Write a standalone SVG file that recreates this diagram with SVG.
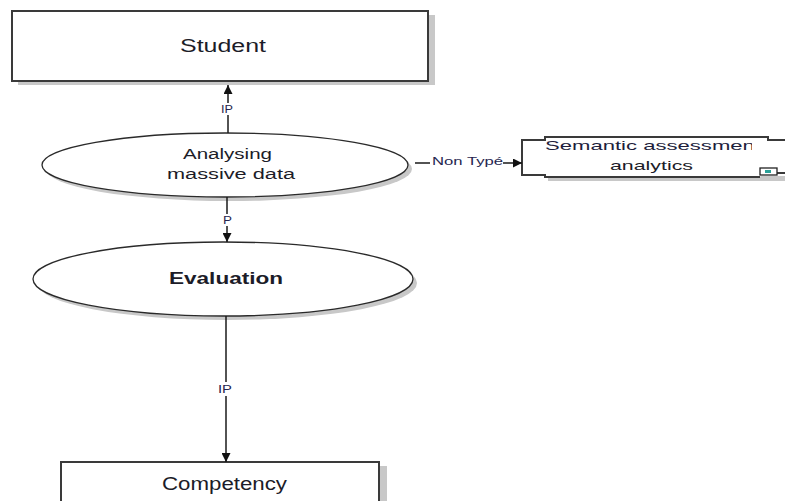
<svg xmlns="http://www.w3.org/2000/svg" width="785" height="501" viewBox="0 0 785 501">
  <style>
    .box { fill: #ffffff; stroke: #3a3a3a; stroke-width: 2; }
    .shadow { fill: #c8c8c8; stroke: none; }
    .ell { fill: #ffffff; stroke: #2a2a2a; stroke-width: 1.3; }
    .conn { fill: none; stroke: #1a1a1a; stroke-width: 1.5; }
    .lbl { font-family: "Liberation Sans", Arial, sans-serif; fill: #1e1e3c; }
    .name { font-family: "Liberation Sans", Arial, sans-serif; fill: #1c1c28; text-anchor: middle; }
    .tag { font-family: "Liberation Sans", Arial, sans-serif; font-size: 11px; fill: #262650; text-anchor: middle; }
  </style>
  <defs>
    <marker id="arrow" viewBox="0 0 10 10" refX="10" refY="5" markerWidth="9" markerHeight="9" markerUnits="userSpaceOnUse" orient="auto">
      <path d="M0,0 L10,5 L0,10 z" fill="#111"/>
    </marker>
    <clipPath id="semClip">
      <rect x="530" y="130" width="222" height="50"/>
    </clipPath>
  </defs>
  <rect width="785" height="501" fill="#ffffff"/>

  <g id="student">
    <rect class="shadow" x="18" y="15" width="417" height="70"/>
    <rect class="box" x="12" y="11" width="416" height="70"/>
    <text class="name" x="223" y="52" font-size="18" textLength="86" lengthAdjust="spacingAndGlyphs">Student</text>
  </g>

  <g id="analysing">
    <ellipse class="shadow" cx="229" cy="169" rx="183" ry="32"/>
    <ellipse class="ell" cx="225" cy="165" rx="183" ry="32"/>
    <text class="name" x="227.5" y="159" font-size="14" textLength="89" lengthAdjust="spacingAndGlyphs">Analysing</text>
    <text class="name" x="231" y="179" font-size="14" textLength="128" lengthAdjust="spacingAndGlyphs">massive data</text>
  </g>

  <g id="evaluation">
    <ellipse class="shadow" cx="227" cy="283" rx="190" ry="37"/>
    <ellipse class="ell" cx="223" cy="279" rx="190" ry="37"/>
    <text class="name" x="226" y="284" font-size="16" font-weight="bold" textLength="114" lengthAdjust="spacingAndGlyphs">Evaluation</text>
  </g>

  <g id="competency">
    <rect class="shadow" x="67" y="466" width="320" height="40"/>
    <rect class="box" x="61" y="462" width="318" height="45"/>
    <text class="name" x="224.5" y="490" font-size="18" textLength="125" lengthAdjust="spacingAndGlyphs">Competency</text>
  </g>

  <g id="semantic">
    <rect class="shadow" x="548" y="176" width="240" height="5"/>
    <path class="box" d="M790,140 H768 V137 H545 V140 H522 V175 H545 V177 H760 M777,173 H790"/>
    <rect x="760" y="168" width="17" height="7" fill="#ffffff" stroke="#222" stroke-width="1.3"/>
    <rect x="765" y="170" width="6" height="3" fill="#2aa198"/>
    <g clip-path="url(#semClip)">
      <text class="lbl" x="545" y="150" font-size="13" textLength="216" lengthAdjust="spacingAndGlyphs">Semantic assessment</text>
    </g>
    <text class="name" x="651.5" y="170" font-size="13" textLength="83" lengthAdjust="spacingAndGlyphs">analytics</text>
  </g>

  <g id="connectors">
    <!-- Analysing massive data -> Student -->
    <line class="conn" x1="228" y1="133" x2="228" y2="115"/>
    <line class="conn" x1="228" y1="103" x2="228" y2="85" marker-end="url(#arrow)"/>
    <text class="tag" x="227" y="113" textLength="12" lengthAdjust="spacingAndGlyphs">IP</text>

    <!-- Analysing massive data -> Evaluation -->
    <line class="conn" x1="227" y1="197" x2="227" y2="214"/>
    <line class="conn" x1="227" y1="226" x2="227" y2="242" marker-end="url(#arrow)"/>
    <text class="tag" x="227.5" y="224" textLength="9" lengthAdjust="spacingAndGlyphs">P</text>

    <!-- Evaluation -> Competency -->
    <line class="conn" x1="226" y1="316" x2="226" y2="382"/>
    <line class="conn" x1="226" y1="396" x2="226" y2="462" marker-end="url(#arrow)"/>
    <text class="tag" x="225" y="393" textLength="14" lengthAdjust="spacingAndGlyphs">IP</text>

    <!-- Analysing massive data -> Semantic assessment analytics -->
    <line class="conn" x1="415" y1="163" x2="430" y2="163"/>
    <line class="conn" x1="503" y1="163" x2="522" y2="163" marker-end="url(#arrow)"/>
    <text class="tag" x="467.5" y="165" textLength="71" lengthAdjust="spacingAndGlyphs">Non Typé</text>
  </g>
</svg>
